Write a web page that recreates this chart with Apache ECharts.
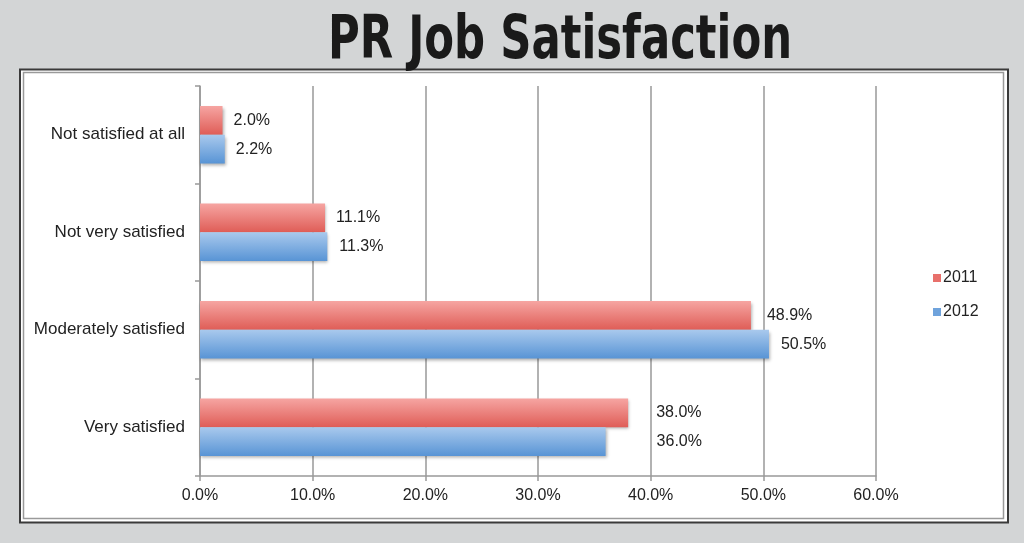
<!DOCTYPE html>
<html>
<head>
<meta charset="utf-8">
<script src="https://cdn.jsdelivr.net/npm/echarts@6/dist/echarts.min.js"></script>
<style>
html,body{margin:0;padding:0;background:#d3d5d6;}
#c{width:1024px;height:543px;}
</style>
</head>
<body>
<div id="c"></div>
<script>
var titleText = 'PR Job Satisfaction';
var categories = ['Not satisfied at all', 'Not very satisfied', 'Moderately satisfied', 'Very satisfied'];
var seriesNames = ['2011', '2012'];
var values2011 = [2.0, 11.1, 48.9, 38.0];
var values2012 = [2.2, 11.3, 50.5, 36.0];
var xMin = 0, xMax = 60, xStep = 10;

var chart = echarts.init(document.getElementById('c'), null, {renderer: 'canvas'});
var font = "'Liberation Sans', Arial, sans-serif";

function grad(top, bottom) {
  return new echarts.graphic.LinearGradient(0, 0, 0, 1, [
    {offset: 0, color: top}, {offset: 1, color: bottom}
  ]);
}
var labelDist = [[11, 11, 16, 28], [11, 12, 12, 51]];

function buildData(vals, si) {
  return vals.map(function (v, i) {
    return {value: v, label: {distance: labelDist[si][i]}};
  });
}

var option = {
  backgroundColor: '#d3d5d6',
  animation: false,
  graphic: [
    {type: 'rect', shape: {x: 20, y: 69.5, width: 988, height: 453}, style: {fill: '#ffffff', stroke: '#3a3a3a', lineWidth: 2}, z: -10},
    {type: 'rect', shape: {x: 23.5, y: 72.5, width: 980, height: 446}, style: {fill: 'none', stroke: '#9a9a9a', lineWidth: 1.5}, z: -9},
    {
      type: 'text', x: 560, y: 42, scaleX: 0.79,
      style: {
        text: titleText,
        font: "bold 61px 'DejaVu Sans Condensed', 'DejaVu Sans', sans-serif",
        fill: '#1a1a1a',
        textAlign: 'center',
        textVerticalAlign: 'middle'
      }
    }
  ],
  legend: {
    orient: 'vertical',
    left: 928,
    top: 265,
    itemWidth: 8,
    itemHeight: 8,
    itemGap: 18,
    icon: 'rect',
    textStyle: {fontFamily: font, fontSize: 16, color: '#222', padding: [0, 0, 0, -3]}
  },
  grid: {left: 200, right: 148, top: 86, bottom: 67, containLabel: false},
  xAxis: {
    type: 'value',
    min: xMin,
    max: xMax,
    interval: xStep,
    axisLine: {show: true, lineStyle: {color: '#999', width: 1.5}},
    axisTick: {show: true, length: 5, lineStyle: {color: '#999', width: 1.5}},
    splitLine: {show: true, lineStyle: {color: '#999', width: 1.5}},
    axisLabel: {
      fontFamily: font, fontSize: 16, color: '#222', margin: 12,
      formatter: function (v) { return v.toFixed(1) + '%'; }
    }
  },
  yAxis: {
    type: 'category',
    inverse: true,
    data: categories,
    axisLine: {show: true, lineStyle: {color: '#999', width: 1.5}},
    axisTick: {show: true, length: 5, lineStyle: {color: '#999', width: 1.5}},
    axisLabel: {fontFamily: font, fontSize: 17, color: '#222', margin: 15}
  },
  series: [
    {
      name: seriesNames[0],
      type: 'bar',
      data: buildData(values2011, 0),
      barCategoryGap: '41%',
      barGap: '0%',
      itemStyle: {
        color: grad('#f6a5a2', '#df5d57'),
        shadowBlur: 3, shadowColor: 'rgba(0,0,0,0.3)', shadowOffsetY: 2, shadowOffsetX: 1
      },
      label: {
        show: true, position: 'right', fontFamily: font, fontSize: 16, color: '#222',
        formatter: function (p) { return p.value.toFixed(1) + '%'; }
      }
    },
    {
      name: seriesNames[1],
      type: 'bar',
      data: buildData(values2012, 1),
      barCategoryGap: '41%',
      barGap: '0%',
      itemStyle: {
        color: grad('#a9c9ed', '#5894d5'),
        shadowBlur: 3, shadowColor: 'rgba(0,0,0,0.3)', shadowOffsetY: 2, shadowOffsetX: 1
      },
      label: {
        show: true, position: 'right', fontFamily: font, fontSize: 16, color: '#222',
        formatter: function (p) { return p.value.toFixed(1) + '%'; }
      }
    }
  ]
};
option.legend.data = seriesNames.map(function (n, i) {
  return {name: n, itemStyle: {color: i === 0 ? '#e8706b' : '#6fa3dc', shadowBlur: 0, shadowOffsetX: 0, shadowOffsetY: 0}};
});
chart.setOption(option);
</script>
</body>
</html>
